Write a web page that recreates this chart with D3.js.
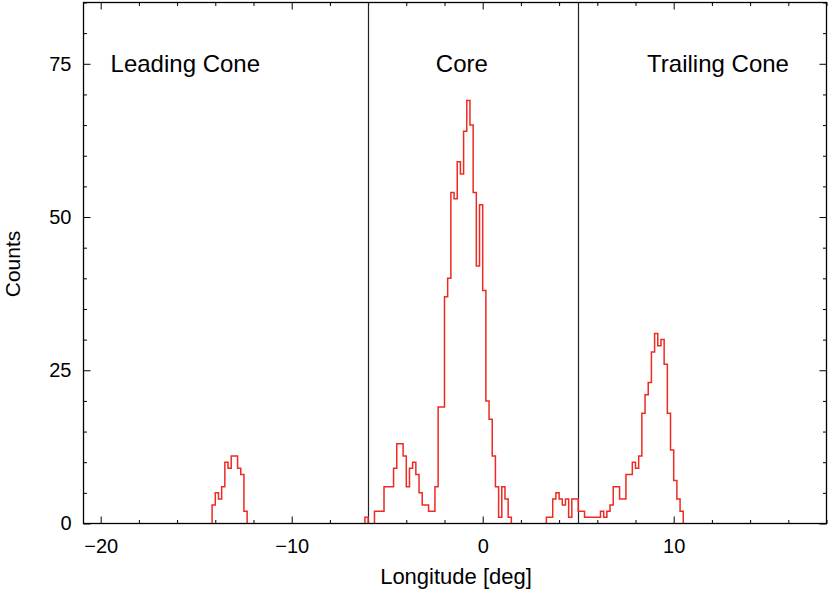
<!DOCTYPE html>
<html>
<head>
<meta charset="utf-8">
<script src="https://cdn.jsdelivr.net/npm/d3@7"></script>
<style>
  body { margin: 0; background: #fff; }
  svg { display: block; font-family: "Liberation Sans", Arial, sans-serif; }
</style>
</head>
<body>
<svg id="chart" width="830" height="592"></svg>
<script>
// histogram bins are 1/6 deg wide; starts given in units of bins
var binWidth = 1 / 6;

var leadingStart = -85;
var leadingCounts = [3, 5, 4, 6, 10, 9, 11, 11, 9, 8, 2];

var coreStart = -37;
var coreCounts = [1, 0, 0, 2, 2, 2, 6, 6, 6, 9, 13, 13, 11, 6, 9, 10, 8, 5, 3, 3,
  2, 2, 6, 19, 19, 37, 40, 54, 53, 59, 57, 64, 69, 65, 54, 42, 52, 38, 20, 17,
  11, 6, 1, 6, 4, 1];

var trailingStart = 20;
var trailingCounts = [1, 1, 4, 5, 4, 3, 4, 1, 4, 4,
  2, 2, 1, 1, 1, 1, 1, 2, 1, 2, 3, 6, 6, 4, 4, 8, 8, 10, 9, 11, 18, 21, 23,
  28, 31, 29, 30, 26, 18, 12, 7, 4, 2];

var regionEdges = [-6, 5];
var regionNames = ["Leading Cone", "Core", "Trailing Cone"];
var regionLabelX = [-15.57, -1.09, 12.32];

var xMajor = [-20, -10, 0, 10];
var yMajor = [0, 25, 50, 75];

(function() {
  var svg = d3.select("#chart");
  var left = 83.5, right = 826.5, top = 2.5, bottom = 523.5;

  var x = d3.scaleLinear().domain([-20.9, 18]).range([left, right]);
  var y = d3.scaleLinear().domain([0, 85]).range([bottom, top]);

  // merge the segments into one run of bins
  var counts = new Map();
  [[leadingStart, leadingCounts], [coreStart, coreCounts], [trailingStart, trailingCounts]]
    .forEach(([s, arr]) => arr.forEach((c, i) => counts.set(s + i, c)));
  var first = d3.min(counts.keys()), last = d3.max(counts.keys());

  // split outline into runs of non-empty bins (zero stretches sit on the axis)
  var runs = [], cur = null;
  for (var k = first; k <= last; k++) {
    var c = counts.get(k) || 0;
    if (c > 0) {
      if (!cur) { cur = [[k * binWidth, 0]]; runs.push(cur); }
      cur.push([k * binWidth, c], [(k + 1) * binWidth, c]);
    } else if (cur) {
      cur.push([k * binWidth, 0]);
      cur = null;
    }
  }
  if (cur) cur.push([(last + 1) * binWidth, 0]);

  var line = d3.line().x(d => x(d[0])).y(d => y(d[1]));

  // minor ticks
  var xMinor = d3.range(-20, 18.01, 2).filter(v => xMajor.indexOf(v) < 0);
  var yMinor = d3.range(0, 85.01, 5).filter(v => yMajor.indexOf(v) < 0);

  function styleAxis(g) {
    g.select(".domain").remove();
    g.selectAll(".tick line").attr("stroke", "#000").attr("stroke-width", 1);
    g.selectAll(".tick text")
      .attr("fill", "#000")
      .style("font-size", "20px")
      .style("font-family", "'Liberation Sans', Arial, sans-serif");
  }

  // bottom
  svg.append("g").attr("transform", `translate(0,${bottom})`)
    .call(d3.axisBottom(x).tickValues(xMajor).tickSizeInner(-7).tickSizeOuter(0).tickPadding(15))
    .call(styleAxis);
  svg.append("g").attr("transform", `translate(0,${bottom})`)
    .call(d3.axisBottom(x).tickValues(xMinor).tickSizeInner(-3.5).tickSizeOuter(0).tickFormat(""))
    .call(styleAxis);
  // top mirror
  svg.append("g").attr("transform", `translate(0,${top})`)
    .call(d3.axisTop(x).tickValues(xMajor).tickSizeInner(-7).tickSizeOuter(0).tickFormat(""))
    .call(styleAxis);
  svg.append("g").attr("transform", `translate(0,${top})`)
    .call(d3.axisTop(x).tickValues(xMinor).tickSizeInner(-3.5).tickSizeOuter(0).tickFormat(""))
    .call(styleAxis);
  // left
  svg.append("g").attr("transform", `translate(${left},0)`)
    .call(d3.axisLeft(y).tickValues(yMajor).tickSizeInner(-7).tickSizeOuter(0).tickPadding(12))
    .call(styleAxis);
  svg.append("g").attr("transform", `translate(${left},0)`)
    .call(d3.axisLeft(y).tickValues(yMinor).tickSizeInner(-3.5).tickSizeOuter(0).tickFormat(""))
    .call(styleAxis);
  // right mirror
  svg.append("g").attr("transform", `translate(${right},0)`)
    .call(d3.axisRight(y).tickValues(yMajor).tickSizeInner(-7).tickSizeOuter(0).tickFormat(""))
    .call(styleAxis);
  svg.append("g").attr("transform", `translate(${right},0)`)
    .call(d3.axisRight(y).tickValues(yMinor).tickSizeInner(-3.5).tickSizeOuter(0).tickFormat(""))
    .call(styleAxis);

  // region dividers
  svg.selectAll(".divider")
    .data(regionEdges)
    .enter()
    .append("line")
    .attr("class", "divider")
    .attr("x1", d => Math.round(x(d)) + 0.5)
    .attr("x2", d => Math.round(x(d)) + 0.5)
    .attr("y1", top)
    .attr("y2", bottom)
    .attr("stroke", "#222")
    .attr("stroke-width", 1.2);

  // histogram outline
  svg.selectAll(".hist")
    .data(runs)
    .enter()
    .append("path")
    .attr("class", "hist")
    .attr("d", line)
    .attr("fill", "none")
    .attr("stroke", "#ee2a22")
    .attr("stroke-width", 1.5);

  // frame
  svg.append("rect")
    .attr("x", left).attr("y", top)
    .attr("width", right - left).attr("height", bottom - top)
    .attr("fill", "none")
    .attr("stroke", "#000")
    .attr("stroke-width", 1.3);

  // region labels
  svg.selectAll(".region")
    .data(regionNames)
    .enter()
    .append("text")
    .attr("class", "region")
    .attr("x", (d, i) => x(regionLabelX[i]))
    .attr("y", y(73.6))
    .attr("text-anchor", "middle")
    .style("font-size", "24px")
    .text(d => d);

  // axis titles
  svg.append("text")
    .attr("x", 456)
    .attr("y", 584)
    .attr("text-anchor", "middle")
    .style("font-size", "22px")
    .text("Longitude [deg]");

  svg.append("text")
    .attr("transform", "rotate(-90)")
    .attr("x", -264)
    .attr("y", 20)
    .attr("text-anchor", "middle")
    .style("font-size", "21px")
    .text("Counts");
})();
</script>
</body>
</html>
